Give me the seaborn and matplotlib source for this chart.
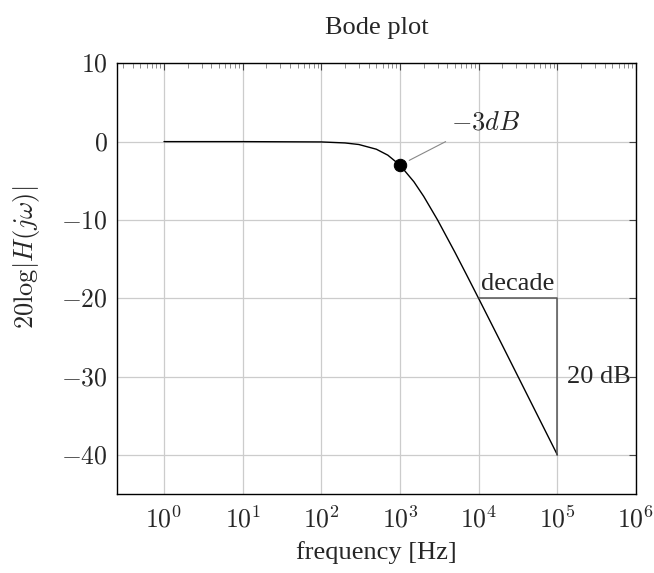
#%% LIB
import math
import matplotlib
matplotlib.use("Agg")
import matplotlib.pyplot as plt
import matplotlib.ticker as mticker
import seaborn as sns
import pandas as pd

#%% DATA
# magnitude response (first-order low-pass, fc ~ 1 kHz)
freq = [1, 10, 100, 200, 300, 500, 700, 1000, 1500, 2000, 3000, 5000,
        7000, 10000, 20000, 50000, 100000]
gain_db = [0.0, 0.0, -0.04, -0.17, -0.37, -0.97, -1.73, -3.01, -5.12, -6.99,
           -10.0, -14.15, -16.99, -20.04, -26.02, -33.98, -40.0]

cutoff_freq = [1000]
cutoff_db = [-3]

# slope triangle: one decade, 20 dB
tri_freq = [1e4, 1e5, 1e5]
tri_db = [-20, -20, -40]

xticks = [1, 10, 100, 1000, 1e4, 1e5, 1e6]
yticks = [10, 0, -10, -20, -30, -40]

df = pd.DataFrame({"freq": freq, "gain": gain_db})

#%% STYLE
sns.set_theme(style="white", context="notebook")
plt.rcParams["font.family"] = ["Liberation Serif", "DejaVu Serif"]
plt.rcParams["mathtext.fontset"] = "cm"
FS = 19

#%% PLOT
fig = plt.figure(figsize=(6.54, 5.73), dpi=100)
ax = fig.add_axes([0.1794, 0.1379, 0.7931, 0.7516])

ax.grid(True, which="major", color="#cccccc", linewidth=0.9)
ax.set_axisbelow(True)

sns.lineplot(data=df, x="freq", y="gain", color="black", linewidth=1.0, ax=ax)
sns.scatterplot(x=cutoff_freq, y=cutoff_db, color="black", s=80,
                edgecolor="black", zorder=5, ax=ax)
ax.plot(tri_freq, tri_db, color="#555555", linewidth=1.1)

ax.set_xscale("log")
ax.set_xlim(0.255, 1e6)
ax.set_ylim(-45, 10)
ax.set_xticks(xticks)
ax.set_yticks(yticks)
ax.xaxis.set_major_formatter(mticker.FuncFormatter(lambda v, p: r"$10^{%d}$" % round(math.log10(v))))
ax.yaxis.set_major_formatter(mticker.FuncFormatter(lambda v, p: r"$%d$" % v if v >= 0 else r"$-%d$" % -v))
ax.xaxis.set_minor_locator(mticker.LogLocator(base=10, subs=range(2, 10), numticks=20))
ax.xaxis.set_minor_formatter(mticker.NullFormatter())

ax.tick_params(axis="both", which="both", direction="in", top=True, right=True,
               labelsize=FS - 0.5, color="#444444")
ax.tick_params(which="major", length=5, width=0.8)
ax.tick_params(which="minor", length=3.5, width=0.6, color="#777777")
ax.tick_params(axis="x", pad=9)
ax.tick_params(axis="y", pad=7)
for s in ax.spines.values():
    s.set_color("black")
    s.set_linewidth(1.0)

# pin for the -3 dB point
ax.annotate("", xy=(1000, -3), xytext=(3800, 0),
            arrowprops=dict(arrowstyle="-", color="#888888", lw=0.8,
                            shrinkA=0, shrinkB=7.5))
ax.text(4500, 2.4, r"$-3dB$", fontsize=FS, ha="left", va="center")
ax.text(math.sqrt(1e4 * 1e5), -19.6, "decade", fontsize=FS, ha="center", va="bottom")
ax.annotate("20 dB", xy=(1e5, -30), xytext=(7, 0), textcoords="offset points",
            fontsize=FS, ha="left", va="center")

ax.set_title("Bode plot", fontsize=FS, pad=21)
ax.set_xlabel("frequency [Hz]", fontsize=FS, labelpad=6)
ax.set_ylabel(r"$20\log|H(j\omega)|$", fontsize=FS)
ax.yaxis.set_label_coords(-0.145, 0.55)

fig.savefig("out.png", dpi=100)
